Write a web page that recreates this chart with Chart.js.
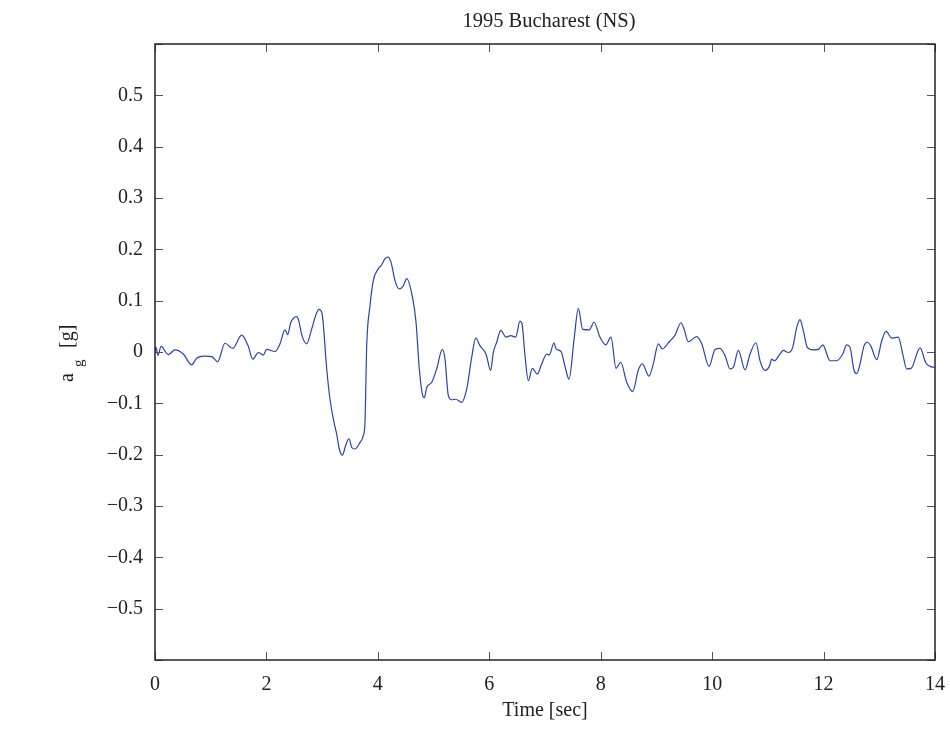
<!DOCTYPE html>
<html>
<head>
<meta charset="utf-8">
<title>1995 Bucharest (NS)</title>
<script src="https://cdn.jsdelivr.net/npm/chart.js@4"></script>
<style>
  html, body { margin: 0; padding: 0; background: #fff; }
  #wrap { width: 950px; height: 731px; }
</style>
</head>
<body>
<div id="wrap"><canvas id="accel" width="950" height="731"></canvas></div>
<script>
// ground acceleration record, time in seconds / acceleration in g
const timeSec = [
  0.000, 0.018, 0.054, 0.108, 0.239, 0.359, 0.508, 0.659, 0.748, 0.897,
  1.018, 1.125, 1.256, 1.395, 1.556, 1.675, 1.754, 1.854, 1.944, 2.005,
  2.154, 2.244, 2.333, 2.382, 2.436, 2.543, 2.572, 2.644, 2.720, 2.813,
  2.890, 2.944, 2.998, 3.082, 3.141, 3.213, 3.261, 3.308, 3.362, 3.428,
  3.482, 3.531, 3.590, 3.680, 3.739, 3.769, 3.800, 3.859, 3.918, 4.008,
  4.069, 4.128, 4.188, 4.236, 4.308, 4.380, 4.457, 4.518, 4.626, 4.685,
  4.744, 4.805, 4.834, 4.877, 4.967, 5.056, 5.157, 5.205, 5.265, 5.326,
  5.397, 5.505, 5.595, 5.685, 5.757, 5.834, 5.941, 6.025, 6.072, 6.133,
  6.205, 6.300, 6.384, 6.474, 6.551, 6.587, 6.641, 6.701, 6.772, 6.862,
  6.941, 7.031, 7.077, 7.162, 7.198, 7.287, 7.359, 7.431, 7.526, 7.598,
  7.677, 7.795, 7.880, 7.987, 8.090, 8.185, 8.275, 8.359, 8.467, 8.574,
  8.675, 8.747, 8.867, 8.944, 9.034, 9.106, 9.231, 9.334, 9.441, 9.495,
  9.572, 9.723, 9.813, 9.944, 10.052, 10.141, 10.231, 10.321, 10.380, 10.470,
  10.590, 10.680, 10.787, 10.859, 10.949, 11.026, 11.069, 11.116, 11.218, 11.277,
  11.367, 11.446, 11.518, 11.577, 11.636, 11.708, 11.816, 11.906, 11.985, 12.116,
  12.236, 12.344, 12.416, 12.475, 12.547, 12.595, 12.655, 12.726, 12.786, 12.847,
  12.955, 13.044, 13.122, 13.224, 13.342, 13.421, 13.493, 13.570, 13.732, 13.834,
  13.911, 13.983
];
const accelG = [
  0.000, 0.009, -0.007, 0.011, -0.005, 0.004, -0.004, -0.025, -0.012, -0.008,
  -0.009, -0.019, 0.017, 0.007, 0.033, 0.011, -0.014, -0.001, -0.006, 0.005,
  0.001, 0.016, 0.043, 0.034, 0.057, 0.069, 0.064, 0.030, 0.016, 0.045,
  0.073, 0.083, 0.075, -0.033, -0.092, -0.137, -0.160, -0.189, -0.201, -0.180,
  -0.169, -0.186, -0.189, -0.176, -0.163, -0.137, 0.012, 0.090, 0.139, 0.162,
  0.170, 0.182, 0.185, 0.175, 0.139, 0.123, 0.129, 0.143, 0.104, 0.058,
  -0.033, -0.085, -0.089, -0.069, -0.059, -0.033, 0.005, -0.014, -0.085, -0.093,
  -0.092, -0.098, -0.072, -0.010, 0.027, 0.012, -0.004, -0.036, -0.001, 0.019,
  0.042, 0.029, 0.032, 0.029, 0.060, 0.055, -0.007, -0.056, -0.032, -0.043,
  -0.023, -0.004, -0.006, 0.018, 0.006, 0.001, -0.028, -0.053, 0.029, 0.085,
  0.044, 0.043, 0.058, 0.029, 0.014, 0.029, -0.032, -0.020, -0.059, -0.077,
  -0.035, -0.023, -0.047, -0.023, 0.016, 0.006, 0.020, 0.033, 0.057, 0.045,
  0.020, 0.030, 0.016, -0.028, 0.005, 0.007, -0.007, -0.033, -0.030, 0.003,
  -0.035, -0.004, 0.018, -0.017, -0.036, -0.028, -0.014, -0.017, -0.004, 0.003,
  -0.001, 0.009, 0.048, 0.063, 0.042, 0.009, 0.004, 0.005, 0.014, -0.017,
  -0.017, -0.004, 0.014, 0.009, -0.036, -0.042, -0.023, 0.012, 0.019, 0.012,
  -0.015, 0.022, 0.040, 0.027, 0.029, -0.004, -0.033, -0.032, 0.008, -0.021,
  -0.028, -0.030
];

// axis ticks
const xTicks = [0, 2, 4, 6, 8, 10, 12, 14];
const yTicks = [-0.6, -0.5, -0.4, -0.3, -0.2, -0.1, 0, 0.1, 0.2, 0.3, 0.4, 0.5, 0.6];
const yLabelled = [-0.5, -0.4, -0.3, -0.2, -0.1, 0, 0.1, 0.2, 0.3, 0.4, 0.5];

const titleText = '1995 Bucharest (NS)';
const xTitle = 'Time [sec]';

const SERIF = '"Liberation Serif", "Times New Roman", serif';
const INK = '#222';

function fmtY(v) {
  if (Math.abs(v) < 1e-9) return '0';
  return (v < 0 ? '\u2212' : '') + Math.abs(v).toFixed(1);
}

// box around the axes, inward ticks on all four sides, title and y label
const frame = {
  id: 'frame',
  afterDraw(chart) {
    const { ctx, chartArea: a, scales } = chart;
    const tl = 8;
    ctx.save();
    ctx.strokeStyle = '#555';
    ctx.lineWidth = 1;
    ctx.beginPath();
    scales.x.ticks.forEach(t => {
      const px = Math.round(scales.x.getPixelForValue(t.value)) + 0.5;
      ctx.moveTo(px, a.bottom); ctx.lineTo(px, a.bottom - tl);
      ctx.moveTo(px, a.top); ctx.lineTo(px, a.top + tl);
    });
    scales.y.ticks.forEach(t => {
      const py = Math.round(scales.y.getPixelForValue(t.value)) + 0.5;
      ctx.moveTo(a.left, py); ctx.lineTo(a.left + tl, py);
      ctx.moveTo(a.right, py); ctx.lineTo(a.right - tl, py);
    });
    ctx.stroke();

    ctx.strokeStyle = INK;
    ctx.lineWidth = 1.5;
    ctx.strokeRect(a.left, a.top, a.right - a.left, a.bottom - a.top);

    ctx.fillStyle = INK;
    ctx.font = '20.5px ' + SERIF;
    ctx.textAlign = 'center';
    ctx.textBaseline = 'alphabetic';
    ctx.fillText(titleText, (a.left + a.right) / 2 + 4, 27);

    // a_g [g], rotated, with subscript
    ctx.translate(73, 382);
    ctx.rotate(-Math.PI / 2);
    ctx.textAlign = 'left';
    ctx.font = '20px ' + SERIF;
    ctx.fillText('a', 0, 0);
    ctx.font = '15px ' + SERIF;
    ctx.fillText('g', 15, 10);
    ctx.font = '20px ' + SERIF;
    ctx.fillText('[g]', 34, 0);
    ctx.restore();
  }
};

new Chart(document.getElementById('accel'), {
  type: 'line',
  data: {
    datasets: [{
      data: timeSec.map((t, i) => ({ x: t, y: accelG[i] })),
      borderColor: '#2b44a8',
      borderWidth: 1.2,
      pointRadius: 0,
      fill: false,
      cubicInterpolationMode: 'monotone'
    }]
  },
  options: {
    responsive: false,
    animation: false,
    layout: { padding: { left: 0, right: 15, top: 44, bottom: 0 } },
    plugins: { legend: { display: false }, tooltip: { enabled: false } },
    scales: {
      x: {
        type: 'linear',
        min: 0, max: 14,
        afterBuildTicks: s => { s.ticks = xTicks.map(v => ({ value: v })); },
        afterFit: s => { s.height = 71; s.paddingLeft = 0; s.paddingRight = 0; },
        grid: { display: false, drawTicks: false },
        border: { display: false },
        ticks: {
          padding: 13,
          color: INK,
          font: { family: SERIF, size: 20 },
          callback: v => String(v)
        },
        title: {
          display: true,
          text: xTitle,
          color: INK,
          font: { family: SERIF, size: 20 },
          padding: { top: 0, bottom: 8 }
        }
      },
      y: {
        min: -0.6, max: 0.6,
        afterBuildTicks: s => { s.ticks = yTicks.map(v => ({ value: v })); },
        afterFit: s => { s.width = 155; },
        grid: { display: false, drawTicks: false },
        border: { display: false },
        ticks: {
          padding: 12,
          color: INK,
          font: { family: SERIF, size: 20 },
          callback: v => yLabelled.some(l => Math.abs(l - v) < 1e-6) ? fmtY(v) : ''
        }
      }
    }
  },
  plugins: [frame]
});
</script>
</body>
</html>
